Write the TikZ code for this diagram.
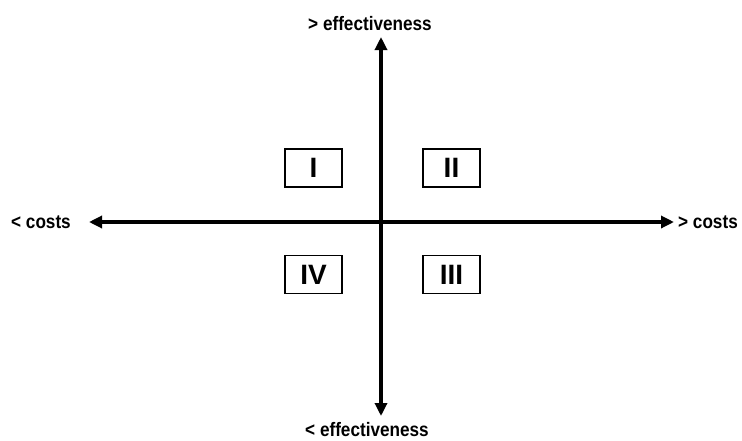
\documentclass[tikz,border=0pt]{standalone}
\usepackage{fontspec}
\setmainfont{Liberation Sans}
\newfontfamily\narrowfont[FakeStretch=0.88]{Liberation Sans}
\usetikzlibrary{arrows.meta}
\begin{document}
\begin{tikzpicture}[x=1pt,y=-1pt,
  axis/.style={line width=3.2pt,{Triangle[length=13pt,width=12pt]}-{Triangle[length=13pt,width=12pt]}},
  quad/.style={draw,line width=1.6pt,minimum width=57pt,minimum height=38pt,inner sep=0pt,font=\fontsize{28}{30}\selectfont\bfseries},
  lbl/.style={font=\narrowfont\fontsize{19.5}{22}\selectfont\bfseries,inner sep=0pt}]
\useasboundingbox (0,0) rectangle (742,440);
\coordinate (top) at (381,37);
\coordinate (bot) at (381,416);
\coordinate (lft) at (89,222);
\coordinate (rgt) at (674,222);
\draw[axis] (lft) -- (rgt);
\draw[axis] (bot) -- (top);
\node[quad] (q1) at (313.5,168) {I};
\node[quad] (q2) at (451.5,168) {II};
\node[quad] (q4) at (313.5,274.5) {IV};
\node[quad] (q3) at (451.5,274.5) {III};
\node[lbl] (te) at (370,24) {> effectiveness};
\node[lbl] (be) at (367,430) {< effectiveness};
\node[lbl] (lc) at (41,222) {< costs};
\node[lbl] (rc) at (708,222) {> costs};
\end{tikzpicture}
\end{document}
